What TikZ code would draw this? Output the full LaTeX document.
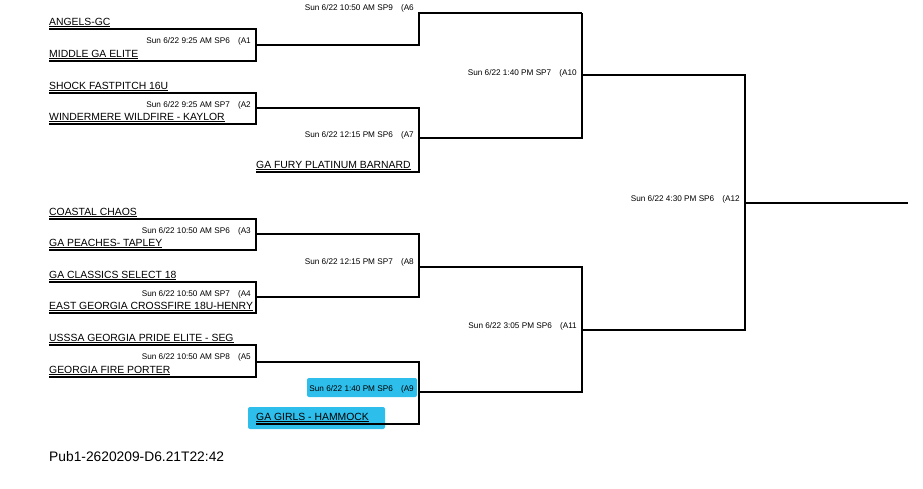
\documentclass[tikz,border=0pt]{standalone}
\usepackage{fontspec}
\setmainfont{Liberation Sans}
\usetikzlibrary{positioning}
\definecolor{hilite}{RGB}{45,190,235}
\tikzset{
  bline/.style={draw=black, line width=1.6pt, line join=miter},
  team/.style={anchor=base west, inner sep=0pt, font=\fontsize{10.4}{11}\selectfont},
  game/.style={anchor=base east, inner sep=0pt, font=\fontsize{8.2}{9}\selectfont},
  marker/.style={fill=hilite, rounded corners=2pt},
}
\begin{document}
\begin{tikzpicture}[x=1pt, y=-1pt]
    \useasboundingbox (0,0) rectangle (923,488);

    %highlights
    \fill[marker] (307,378) rectangle (417,397);
    \fill[marker] (248,407) rectangle (385,429);

    %first round
    \draw[bline] (49,29) -- (256,29) -- (256,61) -- (49,61);
    \draw[bline] (49,93) -- (256,93) -- (256,124) -- (49,124);
    \draw[bline] (49,219) -- (256,219) -- (256,250) -- (49,250);
    \draw[bline] (49,282) -- (256,282) -- (256,313) -- (49,313);
    \draw[bline] (49,345) -- (256,345) -- (256,377) -- (49,377);

    %second round
    \draw[bline] (256,45) -- (419,45) -- (419,13) -- (582,13);
    \draw[bline] (256,108) -- (419,108) -- (419,172) -- (256,172);
    \draw[bline] (256,234) -- (419,234) -- (419,297) -- (256,297);
    \draw[bline] (256,362) -- (419,362) -- (419,424) -- (256,424);

    %third round
    \draw[bline] (419,138) -- (582,138) -- (582,13);
    \draw[bline] (419,267) -- (582,267) -- (582,392) -- (419,392);
    \draw[bline] (582,75) -- (745,75) -- (745,330) -- (582,330);
    \draw[bline] (745,203) -- (908,203);

    %teams
    \node[team] (t1) at (49,25) {\underline{ANGELS-GC}};
    \node[team] (t2) at (49,57) {\underline{MIDDLE GA ELITE}};
    \node[team] (t3) at (49,89) {\underline{SHOCK FASTPITCH 16U}};
    \node[team] (t4) at (49,120) {\underline{WINDERMERE WILDFIRE - KAYLOR}};
    \node[team] (t5) at (256,168) {\underline{GA FURY PLATINUM BARNARD}};
    \node[team] (t6) at (49,215) {\underline{COASTAL CHAOS}};
    \node[team] (t7) at (49,246) {\underline{GA PEACHES- TAPLEY}};
    \node[team] (t8) at (49,278) {\underline{GA CLASSICS SELECT 18}};
    \node[team] (t9) at (49,309) {\underline{EAST GEORGIA CROSSFIRE 18U-HENRY}};
    \node[team] (t10) at (49,341) {\underline{USSSA GEORGIA PRIDE ELITE - SEG}};
    \node[team] (t11) at (49,373) {\underline{GEORGIA FIRE PORTER}};
    \node[team] (t12) at (256,420) {\underline{GA GIRLS - HAMMOCK}};

    %games
    \node[game] (a1) at (251,43) {Sun 6/22 9:25 AM SP6\quad(A1};
    \node[game] (a2) at (251,107) {Sun 6/22 9:25 AM SP7\quad(A2};
    \node[game] (a3) at (251,233) {Sun 6/22 10:50 AM SP6\quad(A3};
    \node[game] (a4) at (251,296) {Sun 6/22 10:50 AM SP7\quad(A4};
    \node[game] (a5) at (251,359) {Sun 6/22 10:50 AM SP8\quad(A5};
    \node[game] (a6) at (414,10) {Sun 6/22 10:50 AM SP9\quad(A6};
    \node[game] (a7) at (414,137) {Sun 6/22 12:15 PM SP6\quad(A7};
    \node[game] (a8) at (414,264) {Sun 6/22 12:15 PM SP7\quad(A8};
    \node[game] (a9) at (414,391) {Sun 6/22 1:40 PM SP6\quad(A9};
    \node[game] (a10) at (577,75) {Sun 6/22 1:40 PM SP7\quad(A10};
    \node[game] (a11) at (577,328) {Sun 6/22 3:05 PM SP6\quad(A11};
    \node[game] (a12) at (740,201) {Sun 6/22 4:30 PM SP6\quad(A12};

    %footer
    \node[anchor=base west, inner sep=0pt, font=\fontsize{13.8}{15}\selectfont]
        (pub) at (49,461) {Pub1-2620209-D6.21T22:42};
\end{tikzpicture}
\end{document}
